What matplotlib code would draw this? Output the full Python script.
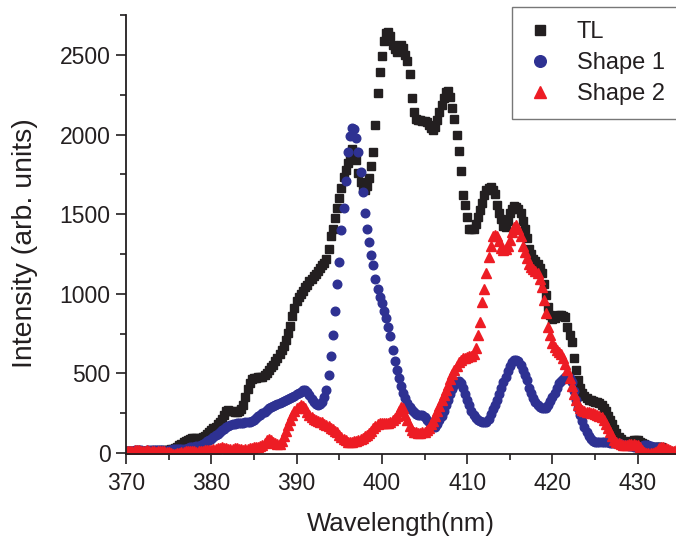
import numpy as np
import matplotlib
matplotlib.use("Agg")
import matplotlib.pyplot as plt
from matplotlib.ticker import MultipleLocator

plt.rcParams['font.family'] = ['Liberation Sans', 'DejaVu Sans']

# wavelength grid (nm), 0.25 nm sampling
wavelength = np.round(np.arange(370, 434.51, 0.25), 2)

tl = [
    10, 8, 12, 10,  12, 15, 10, 8,  10, 12, 15, 12,  15, 18, 15, 12,
    15, 18, 20, 18,  20, 25, 28, 32,  38, 48, 58, 68,  75, 82, 88, 92,
    95, 92, 90, 92,  100, 110, 120, 130,  142, 155, 165, 180,  195, 215, 240, 262,
    268, 265, 262, 258,  258, 262, 275, 300,  350, 405, 440, 462,  470, 472, 475, 476,
    480, 490, 505, 520,  540, 555, 575, 598,  620, 645, 670, 710,  755, 800, 860, 910,
    955, 980, 1000, 1020,  1040, 1058, 1078, 1095,  1110, 1125, 1145, 1160,  1178, 1195, 1220, 1280,
    1360, 1410, 1475, 1540,  1600, 1665, 1735, 1780,  1820, 1870, 1910, 1890,  1840, 1760, 1700, 1660,
    1650, 1680, 1730, 1800,  1890, 2060, 2260, 2390,  2495, 2590, 2640, 2645,  2620, 2560, 2535, 2520,
    2540, 2560, 2545, 2500,  2460, 2380, 2230, 2140,  2095, 2090, 2090, 2088,  2085, 2080, 2060, 2040,
    2030, 2050, 2090, 2140,  2185, 2230, 2270, 2275,  2235, 2165, 2100, 2000,  1900, 1770, 1620, 1560,
    1485, 1410, 1410, 1410,  1440, 1480, 1525, 1570,  1620, 1650, 1665, 1670,  1650, 1625, 1560, 1510,
    1470, 1425, 1420, 1460,  1510, 1535, 1550, 1545,  1530, 1510, 1460, 1405,  1350, 1280, 1250, 1220,
    1205, 1190, 1165, 1130,  1060, 990, 920, 870,  840, 845, 862, 870,  865, 860, 855, 790,
    740, 700, 600, 520,  460, 410, 380, 360,  345, 330, 330, 325,  320, 318, 315, 300,
    285, 265, 235, 210,  180, 150, 125, 100,  88, 75, 70, 68,  70, 75, 80, 82,
    80, 72, 65, 55,  42, 32, 30, 33,  35, 38, 38, 35,  28, 20, 12, 8,
    5, 3, 0,
]

shape1 = [
    10, 12, 14, 15,  18, 20, 18, 16,  15, 15, 18, 20,  22, 22, 20, 18,
    18, 16, 15, 15,  18, 22, 25, 28,  28, 26, 24, 25,  28, 32, 35, 38,
    40, 42, 45, 50,  58, 66, 74, 82,  90, 100, 112, 122,  132, 142, 152, 162,
    170, 176, 180, 184,  186, 188, 189, 190,  192, 194, 196, 202,  210, 220, 232, 240,
    250, 260, 270, 280,  288, 295, 302, 308,  313, 318, 325, 332,  340, 346, 352, 360,
    368, 375, 385, 393,  395, 385, 362, 340,  320, 305, 300, 305,  320, 350, 395, 490,
    610, 740, 890, 1060,  1200, 1400, 1540, 1710,  1890, 1990, 2040, 2035,  1980, 1890, 1765, 1640,
    1510, 1410, 1325, 1245,  1180, 1090, 1030, 980,  940, 890, 845, 790,  735, 650, 580, 520,
    470, 420, 380, 345,  315, 290, 270, 255,  248, 242, 240, 236,  225, 210, 195, 178,
    168, 165, 180, 205,  230, 265, 300, 335,  370, 400, 425, 442,  450, 440, 410, 370,
    335, 300, 265, 238,  220, 210, 200, 195,  193, 195, 215, 245,  275, 300, 330, 370,
    410, 445, 480, 515,  545, 570, 582, 586,  575, 550, 520, 490,  460, 410, 375, 345,
    320, 300, 288, 282,  280, 285, 300, 325,  350, 380, 410, 440,  455, 468, 476, 478,
    470, 445, 390, 330,  280, 240, 200, 165,  130, 105, 90, 78,  72, 70, 70, 72,
    72, 70, 68, 66,  65, 63, 62, 60,  56, 52, 50, 48,  45, 42, 40, 38,
    38, 40, 45, 50,  50, 48, 44, 40,  38, 38, 36, 32,  25, 20, 15, 8,
    0, -8, -12,
]

shape2 = [
    10, 12, 15, 15,  18, 20, 18, 15,  12, 15, 18, 15,  12, 10, 8, 10,
    12, 15, 12, 8,  5, 0, -3, -5,  -2, 0, 5, 8,  10, 12, 15, 12,
    10, 8, 10, 12,  15, 18, 20, 18,  20, 25, 28, 30,  32, 35, 32, 30,
    28, 25, 28, 32,  30, 28, 25, 22,  25, 28, 30, 32,  35, 38, 40, 45,
    52, 65, 80, 88,  85, 72, 60, 55,  58, 75, 110, 140,  175, 210, 240, 265,
    280, 292, 300, 295,  280, 260, 240, 226,  215, 205, 200, 197,  192, 185, 178, 170,
    160, 150, 140, 130,  115, 102, 90, 80,  72, 69, 70, 74,  78, 82, 88, 95,
    105, 115, 125, 140,  155, 170, 180, 188,  190, 190, 189, 190,  195, 205, 218, 235,
    265, 289, 280, 240,  205, 170, 145, 135,  130, 128, 128, 130,  135, 145, 160, 180,
    200, 235, 265, 295,  330, 365, 395, 430,  465, 495, 520, 545,  570, 585, 595, 600,
    603, 608, 612, 625,  660, 740, 820, 950,  1030, 1130, 1230, 1300,  1365, 1370, 1360, 1330,
    1290, 1275, 1280, 1300,  1340, 1390, 1420, 1432,  1410, 1360, 1300, 1260,  1225, 1190, 1170, 1155,
    1145, 1130, 1090, 1040,  960, 880, 790, 740,  690, 665, 650, 635,  620, 595, 560, 520,
    470, 420, 370, 330,  300, 280, 270, 262,  258, 255, 252, 250,  245, 240, 235, 225,
    210, 185, 160, 130,  105, 85, 68, 60,  55, 52, 50, 52,  55, 58, 55, 52,
    48, 35, 20, 8,  3, 0, 0, 2,  5, 15, 30, 38,  35, 30, 25, 20,
    15, 15, 18,
]

x_ticks = [370, 380, 390, 400, 410, 420, 430]
y_ticks = [0, 500, 1000, 1500, 2000, 2500]

n = min(len(wavelength), len(tl), len(shape1), len(shape2))

fig = plt.figure(figsize=(6.76, 5.41), dpi=100)
ax = fig.add_axes([126 / 676, 1 - 454 / 541, 1 - 126 / 676, (454 - 15) / 541])

c_tl = '#231F20'
c_s1 = '#2E3192'
c_s2 = '#ED1C24'

ax.plot(wavelength[:n], tl[:n], linestyle='none', marker='s', ms=5.6,
        color=c_tl, mec=c_tl, label='TL')
ax.plot(wavelength[:n], shape1[:n], linestyle='none', marker='o', ms=6.2,
        color=c_s1, mec=c_s1, label='Shape 1')
ax.plot(wavelength[:n], shape2[:n], linestyle='none', marker='^', ms=6.6,
        color=c_s2, mec=c_s2, label='Shape 2')

ax.set_xlim(370, 434.48)
ax.set_ylim(-6, 2751)

ax.set_xticks(x_ticks)
ax.set_yticks(y_ticks)
ax.xaxis.set_minor_locator(MultipleLocator(5))
ax.yaxis.set_minor_locator(MultipleLocator(250))

for s in ['top', 'right']:
    ax.spines[s].set_visible(False)
for s in ['left', 'bottom']:
    ax.spines[s].set_linewidth(1.3)
    ax.spines[s].set_color('#231F20')

ax.tick_params(axis='both', which='major', direction='out', length=7, width=1.2,
               labelsize=16.5, colors='#231F20')
ax.tick_params(axis='x', which='major', pad=6)
ax.tick_params(axis='y', which='major', pad=4)
ax.tick_params(axis='both', which='minor', direction='out', length=4.5, width=1.2,
               colors='#231F20')

ax.set_xlabel('Wavelength(nm)', fontsize=18.5, color='#231F20', labelpad=12)
ax.set_ylabel('Intensity (arb. units)', fontsize=20.5, color='#231F20')
ax.yaxis.set_label_coords(-88 / 550, 0.48)

leg = ax.legend(loc='upper left', bbox_to_anchor=(512 / 676, 1 - 7 / 541),
                bbox_transform=fig.transFigure, frameon=True, fancybox=False,
                fontsize=17, markerscale=1.35, handlelength=1.2,
                handletextpad=0.95, labelspacing=0.38, borderpad=0.6,
                borderaxespad=0)
leg.get_frame().set_edgecolor('#555555')
leg.get_frame().set_linewidth(1.0)
for t in leg.get_texts():
    t.set_color('#231F20')

fig.savefig('out.png', dpi=100)
